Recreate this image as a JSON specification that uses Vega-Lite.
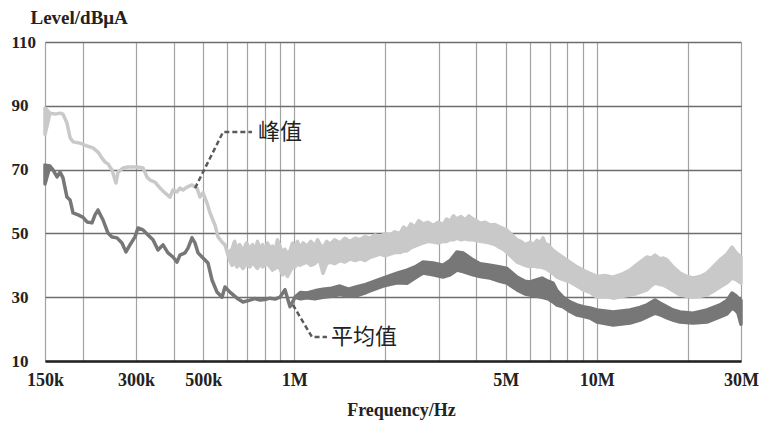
{
  "$schema": "https://vega.github.io/schema/vega-lite/v6.json",
  "width": 696,
  "height": 319,
  "autosize": {"type": "none"},
  "padding": {"left": 45, "top": 42, "right": 21, "bottom": 60},
  "background": "white",
  "config": {"view": {"stroke": null}},
  "datasets": {
    "peak": [
      {"f": 150000, "lo": 81, "hi": 89.3},
      {"f": 155800, "lo": 87.7, "hi": 87.7},
      {"f": 161900, "lo": 87.4, "hi": 87.4},
      {"f": 168200, "lo": 87.7, "hi": 87.7},
      {"f": 172000, "lo": 87.4, "hi": 87.4},
      {"f": 177300, "lo": 84.6, "hi": 84.6},
      {"f": 181500, "lo": 80.0, "hi": 80.0},
      {"f": 185700, "lo": 78.7, "hi": 78.7},
      {"f": 195800, "lo": 78.3, "hi": 78.3},
      {"f": 206500, "lo": 77.4, "hi": 77.4},
      {"f": 216100, "lo": 76.8, "hi": 76.8},
      {"f": 224500, "lo": 75.5, "hi": 75.5},
      {"f": 231500, "lo": 73.6, "hi": 73.6},
      {"f": 236800, "lo": 72.4, "hi": 72.4},
      {"f": 242300, "lo": 71.8, "hi": 71.8},
      {"f": 249800, "lo": 69.9, "hi": 69.9},
      {"f": 257500, "lo": 65.8, "hi": 65.8},
      {"f": 261500, "lo": 69.2, "hi": 69.2},
      {"f": 271600, "lo": 70.5, "hi": 70.5},
      {"f": 282100, "lo": 70.8, "hi": 70.8},
      {"f": 293100, "lo": 70.8, "hi": 70.8},
      {"f": 304500, "lo": 70.8, "hi": 70.8},
      {"f": 316300, "lo": 70.5, "hi": 70.5},
      {"f": 326100, "lo": 67.7, "hi": 67.7},
      {"f": 333600, "lo": 66.7, "hi": 66.7},
      {"f": 346500, "lo": 66.1, "hi": 66.1},
      {"f": 360000, "lo": 64.2, "hi": 64.2},
      {"f": 373900, "lo": 62.7, "hi": 62.7},
      {"f": 388500, "lo": 61.4, "hi": 61.4},
      {"f": 397400, "lo": 63.6, "hi": 63.6},
      {"f": 409700, "lo": 63.0, "hi": 63.0},
      {"f": 419000, "lo": 64.2, "hi": 64.2},
      {"f": 428800, "lo": 63.6, "hi": 63.6},
      {"f": 442100, "lo": 64.5, "hi": 64.5},
      {"f": 459300, "lo": 65.2, "hi": 65.2},
      {"f": 477100, "lo": 64.2, "hi": 64.2},
      {"f": 488000, "lo": 61.4, "hi": 61.4},
      {"f": 499500, "lo": 62.7, "hi": 62.7},
      {"f": 514900, "lo": 59.5, "hi": 59.5},
      {"f": 527000, "lo": 56.4, "hi": 56.4},
      {"f": 547200, "lo": 52.6, "hi": 52.6},
      {"f": 559800, "lo": 48.9, "hi": 48.9},
      {"f": 577100, "lo": 47.3, "hi": 47.3},
      {"f": 590400, "lo": 46.4, "hi": 46.4},
      {"f": 604100, "lo": 43.2, "hi": 43.2},
      {"f": 613000, "lo": 41.5, "hi": 44.5},
      {"f": 622800, "lo": 40, "hi": 45},
      {"f": 635000, "lo": 41, "hi": 47.5},
      {"f": 646900, "lo": 39.5, "hi": 45},
      {"f": 660000, "lo": 40.5, "hi": 46.5},
      {"f": 677100, "lo": 39, "hi": 44.5},
      {"f": 695000, "lo": 40.5, "hi": 47},
      {"f": 714000, "lo": 39.5, "hi": 45},
      {"f": 728000, "lo": 41, "hi": 46.5},
      {"f": 741900, "lo": 40, "hi": 44.5},
      {"f": 756000, "lo": 39, "hi": 47.5},
      {"f": 771000, "lo": 40.5, "hi": 45},
      {"f": 786000, "lo": 39.5, "hi": 46.5},
      {"f": 800800, "lo": 40, "hi": 44.5},
      {"f": 816000, "lo": 40.5, "hi": 47},
      {"f": 832000, "lo": 39.5, "hi": 45.5},
      {"f": 848000, "lo": 38.5, "hi": 46},
      {"f": 864000, "lo": 39, "hi": 44.5},
      {"f": 880000, "lo": 39.5, "hi": 48},
      {"f": 897000, "lo": 39, "hi": 46},
      {"f": 915000, "lo": 37, "hi": 44},
      {"f": 932000, "lo": 38, "hi": 45},
      {"f": 950000, "lo": 36.5, "hi": 43.5},
      {"f": 968500, "lo": 38, "hi": 44.5},
      {"f": 987000, "lo": 39.5, "hi": 47},
      {"f": 1006000, "lo": 39.5, "hi": 45.5},
      {"f": 1025000, "lo": 40.5, "hi": 47.5},
      {"f": 1045000, "lo": 40, "hi": 45.5},
      {"f": 1070000, "lo": 40.5, "hi": 47},
      {"f": 1102000, "lo": 41, "hi": 46},
      {"f": 1135000, "lo": 40, "hi": 47.5},
      {"f": 1171000, "lo": 40.5, "hi": 46},
      {"f": 1195000, "lo": 41.5, "hi": 48},
      {"f": 1217000, "lo": 41, "hi": 46.5},
      {"f": 1245000, "lo": 37.5, "hi": 45.5},
      {"f": 1280000, "lo": 40.5, "hi": 47.5},
      {"f": 1313000, "lo": 41, "hi": 46.5},
      {"f": 1360000, "lo": 40.5, "hi": 48},
      {"f": 1417000, "lo": 41.5, "hi": 47},
      {"f": 1470000, "lo": 41, "hi": 48.5},
      {"f": 1529000, "lo": 42, "hi": 47.5},
      {"f": 1590000, "lo": 41.5, "hi": 48.5},
      {"f": 1650000, "lo": 42, "hi": 48},
      {"f": 1715000, "lo": 41.5, "hi": 49},
      {"f": 1781000, "lo": 42.5, "hi": 48.5},
      {"f": 1850000, "lo": 43, "hi": 49.5},
      {"f": 1922000, "lo": 43.5, "hi": 49},
      {"f": 2000000, "lo": 43, "hi": 50},
      {"f": 2074000, "lo": 43.5, "hi": 49.5},
      {"f": 2150000, "lo": 44, "hi": 50.5},
      {"f": 2238000, "lo": 44, "hi": 50},
      {"f": 2300000, "lo": 44.5, "hi": 52},
      {"f": 2360000, "lo": 44.5, "hi": 51},
      {"f": 2430000, "lo": 45.5, "hi": 53},
      {"f": 2508000, "lo": 46, "hi": 52},
      {"f": 2580000, "lo": 46.5, "hi": 54},
      {"f": 2666000, "lo": 47, "hi": 53},
      {"f": 2770000, "lo": 47.5, "hi": 53.5},
      {"f": 2877000, "lo": 47.3, "hi": 52.5},
      {"f": 2990000, "lo": 47, "hi": 53.5},
      {"f": 3105000, "lo": 47.5, "hi": 52.8},
      {"f": 3190000, "lo": 47.5, "hi": 54.5},
      {"f": 3275000, "lo": 48, "hi": 53.8},
      {"f": 3360000, "lo": 48, "hi": 55.5},
      {"f": 3453000, "lo": 48.5, "hi": 54.5},
      {"f": 3560000, "lo": 48, "hi": 55.3},
      {"f": 3671000, "lo": 48.3, "hi": 54.2},
      {"f": 3780000, "lo": 48, "hi": 55.5},
      {"f": 3900000, "lo": 48, "hi": 54.5},
      {"f": 4000000, "lo": 47.8, "hi": 54},
      {"f": 4114000, "lo": 47.5, "hi": 53.2},
      {"f": 4280000, "lo": 47.3, "hi": 53.5},
      {"f": 4440000, "lo": 47, "hi": 52.6},
      {"f": 4610000, "lo": 46.5, "hi": 52.8},
      {"f": 4791000, "lo": 45.5, "hi": 52},
      {"f": 4920000, "lo": 45, "hi": 51.5},
      {"f": 5053000, "lo": 44, "hi": 51},
      {"f": 5250000, "lo": 42.5, "hi": 49.5},
      {"f": 5453000, "lo": 41, "hi": 48},
      {"f": 5620000, "lo": 40.5, "hi": 47.5},
      {"f": 5796000, "lo": 40, "hi": 46.5},
      {"f": 6020000, "lo": 39.5, "hi": 47.2},
      {"f": 6180000, "lo": 39.8, "hi": 46.5},
      {"f": 6350000, "lo": 39.5, "hi": 47.8},
      {"f": 6500000, "lo": 39.5, "hi": 47},
      {"f": 6647000, "lo": 39.2, "hi": 48.6},
      {"f": 6780000, "lo": 39, "hi": 46.5},
      {"f": 6905000, "lo": 38.5, "hi": 46.5},
      {"f": 7150000, "lo": 37.5, "hi": 44.8},
      {"f": 7394000, "lo": 36.3, "hi": 43.8},
      {"f": 7740000, "lo": 35.5, "hi": 42.5},
      {"f": 8163000, "lo": 34.8, "hi": 41},
      {"f": 8609000, "lo": 33.5, "hi": 39.5},
      {"f": 9010000, "lo": 32.3, "hi": 38.5},
      {"f": 9504000, "lo": 31.5, "hi": 37.5},
      {"f": 10020000, "lo": 30, "hi": 36.5},
      {"f": 10650000, "lo": 30.2, "hi": 36.8},
      {"f": 11330000, "lo": 29.7, "hi": 36.3},
      {"f": 12100000, "lo": 30.2, "hi": 37.2},
      {"f": 12890000, "lo": 30.7, "hi": 38.5},
      {"f": 13400000, "lo": 31, "hi": 39.8},
      {"f": 13910000, "lo": 31.5, "hi": 41},
      {"f": 14670000, "lo": 32.3, "hi": 42.6},
      {"f": 15100000, "lo": 33.5, "hi": 42.2},
      {"f": 15590000, "lo": 34.4, "hi": 43.2},
      {"f": 16190000, "lo": 34, "hi": 42},
      {"f": 16600000, "lo": 33.8, "hi": 42.3},
      {"f": 17080000, "lo": 33.2, "hi": 41.7},
      {"f": 17880000, "lo": 32, "hi": 39.5},
      {"f": 18860000, "lo": 30.7, "hi": 37.6},
      {"f": 19890000, "lo": 30.3, "hi": 36.5},
      {"f": 20820000, "lo": 30, "hi": 36},
      {"f": 21960000, "lo": 30.3, "hi": 36.5},
      {"f": 23160000, "lo": 30.7, "hi": 37.6},
      {"f": 24240000, "lo": 31.8, "hi": 39.5},
      {"f": 25560000, "lo": 33.2, "hi": 41.7},
      {"f": 26970000, "lo": 34.5, "hi": 43.5},
      {"f": 28010000, "lo": 36, "hi": 45.7},
      {"f": 28870000, "lo": 35.5, "hi": 44},
      {"f": 30000000, "lo": 34.4, "hi": 42.6}
    ],
    "avg": [
      {"f": 150000, "lo": 65.5, "hi": 71.4},
      {"f": 155800, "lo": 71.1, "hi": 71.1},
      {"f": 159400, "lo": 69.9, "hi": 69.9},
      {"f": 164400, "lo": 67.7, "hi": 67.7},
      {"f": 168200, "lo": 69.2, "hi": 69.2},
      {"f": 172000, "lo": 67.4, "hi": 67.4},
      {"f": 177300, "lo": 61.4, "hi": 61.4},
      {"f": 181500, "lo": 60.5, "hi": 60.5},
      {"f": 185700, "lo": 56.4, "hi": 56.4},
      {"f": 192900, "lo": 55.8, "hi": 55.8},
      {"f": 200000, "lo": 55.1, "hi": 55.1},
      {"f": 206500, "lo": 53.6, "hi": 53.6},
      {"f": 214500, "lo": 53.3, "hi": 53.3},
      {"f": 219500, "lo": 55.8, "hi": 55.8},
      {"f": 224500, "lo": 57.3, "hi": 57.3},
      {"f": 233300, "lo": 54.2, "hi": 54.2},
      {"f": 242300, "lo": 50.1, "hi": 50.1},
      {"f": 249800, "lo": 48.9, "hi": 48.9},
      {"f": 259500, "lo": 48.6, "hi": 48.6},
      {"f": 269500, "lo": 47.0, "hi": 47.0},
      {"f": 277800, "lo": 44.2, "hi": 44.2},
      {"f": 286500, "lo": 46.4, "hi": 46.4},
      {"f": 297600, "lo": 48.9, "hi": 48.9},
      {"f": 304500, "lo": 51.7, "hi": 51.7},
      {"f": 316300, "lo": 51.1, "hi": 51.1},
      {"f": 328500, "lo": 49.5, "hi": 49.5},
      {"f": 341300, "lo": 48.0, "hi": 48.0},
      {"f": 354500, "lo": 44.8, "hi": 44.8},
      {"f": 368300, "lo": 46.4, "hi": 46.4},
      {"f": 382500, "lo": 43.9, "hi": 43.9},
      {"f": 397400, "lo": 42.6, "hi": 42.6},
      {"f": 409700, "lo": 41.0, "hi": 41.0},
      {"f": 419000, "lo": 43.2, "hi": 43.2},
      {"f": 435400, "lo": 43.9, "hi": 43.9},
      {"f": 445500, "lo": 45.4, "hi": 45.4},
      {"f": 459300, "lo": 48.6, "hi": 48.6},
      {"f": 469900, "lo": 47.0, "hi": 47.0},
      {"f": 480800, "lo": 43.9, "hi": 43.9},
      {"f": 499500, "lo": 42.3, "hi": 42.3},
      {"f": 518800, "lo": 40.7, "hi": 40.7},
      {"f": 534900, "lo": 35.4, "hi": 35.4},
      {"f": 555600, "lo": 31.6, "hi": 31.6},
      {"f": 577100, "lo": 30.0, "hi": 30.0},
      {"f": 590400, "lo": 33.2, "hi": 33.2},
      {"f": 613000, "lo": 31.6, "hi": 31.6},
      {"f": 646900, "lo": 29.7, "hi": 29.7},
      {"f": 677100, "lo": 28.5, "hi": 28.5},
      {"f": 714000, "lo": 29.1, "hi": 29.1},
      {"f": 740000, "lo": 29.6, "hi": 29.6},
      {"f": 771000, "lo": 29.1, "hi": 29.1},
      {"f": 800000, "lo": 29.3, "hi": 29.3},
      {"f": 832000, "lo": 29.7, "hi": 29.7},
      {"f": 865000, "lo": 29.4, "hi": 29.4},
      {"f": 897000, "lo": 30.0, "hi": 30.0},
      {"f": 932000, "lo": 32.3, "hi": 32.3},
      {"f": 968500, "lo": 27.0, "hi": 27.0},
      {"f": 1006000, "lo": 30.0, "hi": 30.0},
      {"f": 1050000, "lo": 29.5, "hi": 31.5},
      {"f": 1102000, "lo": 29.8, "hi": 31.3},
      {"f": 1170000, "lo": 29.5, "hi": 32},
      {"f": 1245000, "lo": 30, "hi": 32.5},
      {"f": 1330000, "lo": 30.3, "hi": 32.8},
      {"f": 1417000, "lo": 30.8, "hi": 33.5},
      {"f": 1510000, "lo": 30.3, "hi": 32.5},
      {"f": 1613000, "lo": 30.5, "hi": 33.3},
      {"f": 1700000, "lo": 31.2, "hi": 33.8},
      {"f": 1781000, "lo": 32, "hi": 34.5},
      {"f": 1966000, "lo": 33.5, "hi": 36},
      {"f": 2187000, "lo": 34.5, "hi": 37.5},
      {"f": 2360000, "lo": 34.4, "hi": 38.5},
      {"f": 2508000, "lo": 36, "hi": 39.5},
      {"f": 2666000, "lo": 37.6, "hi": 41},
      {"f": 2877000, "lo": 37, "hi": 40.7},
      {"f": 3105000, "lo": 36.3, "hi": 40},
      {"f": 3275000, "lo": 37, "hi": 41.5},
      {"f": 3453000, "lo": 38.5, "hi": 44.2},
      {"f": 3615000, "lo": 38, "hi": 43.9},
      {"f": 3900000, "lo": 37, "hi": 41.7},
      {"f": 4114000, "lo": 36.5, "hi": 40.5},
      {"f": 4440000, "lo": 36, "hi": 40},
      {"f": 4791000, "lo": 35, "hi": 39.5},
      {"f": 5053000, "lo": 34.4, "hi": 39},
      {"f": 5453000, "lo": 32.3, "hi": 36.3},
      {"f": 5796000, "lo": 31, "hi": 35},
      {"f": 6020000, "lo": 30.7, "hi": 34.8},
      {"f": 6350000, "lo": 30.3, "hi": 35.5},
      {"f": 6596000, "lo": 30, "hi": 36},
      {"f": 6905000, "lo": 29.5, "hi": 35},
      {"f": 7173000, "lo": 28.5, "hi": 34.4},
      {"f": 7394000, "lo": 27.5, "hi": 32},
      {"f": 7740000, "lo": 27, "hi": 30},
      {"f": 8163000, "lo": 25.5, "hi": 28.5},
      {"f": 8609000, "lo": 24.4, "hi": 27.6},
      {"f": 9010000, "lo": 24, "hi": 27},
      {"f": 9504000, "lo": 23.5, "hi": 26.6},
      {"f": 10020000, "lo": 22.2, "hi": 26},
      {"f": 11330000, "lo": 21.3, "hi": 25.4},
      {"f": 12890000, "lo": 21.9, "hi": 26},
      {"f": 13910000, "lo": 22.8, "hi": 26.8},
      {"f": 14670000, "lo": 23.8, "hi": 27.6},
      {"f": 15590000, "lo": 25, "hi": 29.1},
      {"f": 16190000, "lo": 24.5, "hi": 28.2},
      {"f": 17080000, "lo": 23.5, "hi": 27},
      {"f": 17880000, "lo": 22.8, "hi": 26},
      {"f": 18860000, "lo": 22.2, "hi": 25.4},
      {"f": 20820000, "lo": 21.9, "hi": 25},
      {"f": 23160000, "lo": 22.2, "hi": 26},
      {"f": 25560000, "lo": 23.8, "hi": 27.6},
      {"f": 26970000, "lo": 24.8, "hi": 29},
      {"f": 28010000, "lo": 26.6, "hi": 31.3},
      {"f": 28870000, "lo": 25.8, "hi": 30.5},
      {"f": 29320000, "lo": 25, "hi": 29.7},
      {"f": 30000000, "lo": 21.5, "hi": 29}
    ],
    "leaders": [
      {"g": "peak", "o": 1, "f": 470000, "v": 64.2},
      {"g": "peak", "o": 2, "f": 582000, "v": 81.8},
      {"g": "peak", "o": 3, "f": 725000, "v": 81.8},
      {"g": "avg", "o": 1, "f": 990000, "v": 27.6},
      {"g": "avg", "o": 2, "f": 1145000, "v": 17.5},
      {"g": "avg", "o": 3, "f": 1283000, "v": 17.5}
    ],
    "labels": [
      {"f": 759000, "v": 81.8, "t": "峰值"},
      {"f": 1323000, "v": 17.5, "t": "平均值"}
    ]
  },
  "layer": [
    {
      "data": {"name": "peak"},
      "mark": {"type": "area", "color": "#c9c9c9", "stroke": "#c9c9c9", "strokeWidth": 3.5, "strokeJoin": "round"},
      "encoding": {
        "x": {
          "field": "f", "type": "quantitative",
          "scale": {"type": "log", "domain": [150000, 30000000], "nice": false},
          "axis": {
            "values": [150000, 200000, 300000, 400000, 500000, 600000, 700000, 800000, 900000, 1000000, 2000000, 3000000, 4000000, 5000000, 6000000, 7000000, 8000000, 9000000, 10000000, 20000000, 30000000],
            "labelExpr": "datum.value == 150000 ? '150k' : datum.value == 300000 ? '300k' : datum.value == 500000 ? '500k' : datum.value == 1000000 ? '1M' : datum.value == 5000000 ? '5M' : datum.value == 10000000 ? '10M' : datum.value == 30000000 ? '30M' : ''",
            "grid": true, "gridColor": "#a3a3a3", "gridWidth": 1.2,
            "ticks": false,
            "domain": true, "domainColor": "#222222", "domainWidth": 2.5,
            "labelFont": "Liberation Serif", "labelFontWeight": "bold", "labelFontSize": 18, "labelColor": "#222222",
            "labelPadding": 10, "labelAngle": 0, "labelOverlap": false, "labelBound": false, "labelFlush": false,
            "title": "Frequency/Hz",
            "titleFont": "Liberation Serif", "titleFontWeight": "bold", "titleFontSize": 18, "titleColor": "#222222",
            "titleX": 356, "titleY": 54, "titleAlign": "center", "titleBaseline": "alphabetic",
            "zindex": 0
          }
        },
        "y": {
          "field": "lo", "type": "quantitative",
          "scale": {"domain": [10, 110], "nice": false, "zero": false},
          "axis": {
            "values": [10, 30, 50, 70, 90, 110],
            "grid": true, "gridColor": "#6e6e6e", "gridWidth": 1.5,
            "ticks": false, "domain": false,
            "labelFont": "Liberation Serif", "labelFontWeight": "bold", "labelFontSize": 17, "labelColor": "#222222",
            "labelAlign": "left", "labelPadding": 34, "labelBaseline": "middle",
            "title": "Level/dBμA",
            "titleFont": "Liberation Serif", "titleFontWeight": "bold", "titleFontSize": 19, "titleColor": "#222222",
            "titleAngle": 0, "titleX": -15, "titleY": -19, "titleAlign": "left", "titleBaseline": "alphabetic"
          }
        },
        "y2": {"field": "hi"}
      }
    },
    {
      "data": {"name": "avg"},
      "mark": {"type": "area", "color": "#777777", "stroke": "#777777", "strokeWidth": 3.5, "strokeJoin": "round"},
      "encoding": {
        "x": {"field": "f", "type": "quantitative"},
        "y": {"field": "lo", "type": "quantitative"},
        "y2": {"field": "hi"}
      }
    },
    {
      "data": {"name": "leaders"},
      "mark": {"type": "line", "color": "#5a5a5a", "strokeWidth": 2.5, "strokeDash": [5, 3]},
      "encoding": {
        "x": {"field": "f", "type": "quantitative"},
        "y": {"field": "v", "type": "quantitative"},
        "detail": {"field": "g"},
        "order": {"field": "o", "type": "quantitative"}
      }
    },
    {
      "data": {"name": "labels"},
      "mark": {"type": "text", "font": "Noto Sans CJK SC", "fontSize": 22, "align": "left", "baseline": "middle", "color": "#222222"},
      "encoding": {
        "x": {"field": "f", "type": "quantitative"},
        "y": {"field": "v", "type": "quantitative"},
        "text": {"field": "t"}
      }
    }
  ]
}
